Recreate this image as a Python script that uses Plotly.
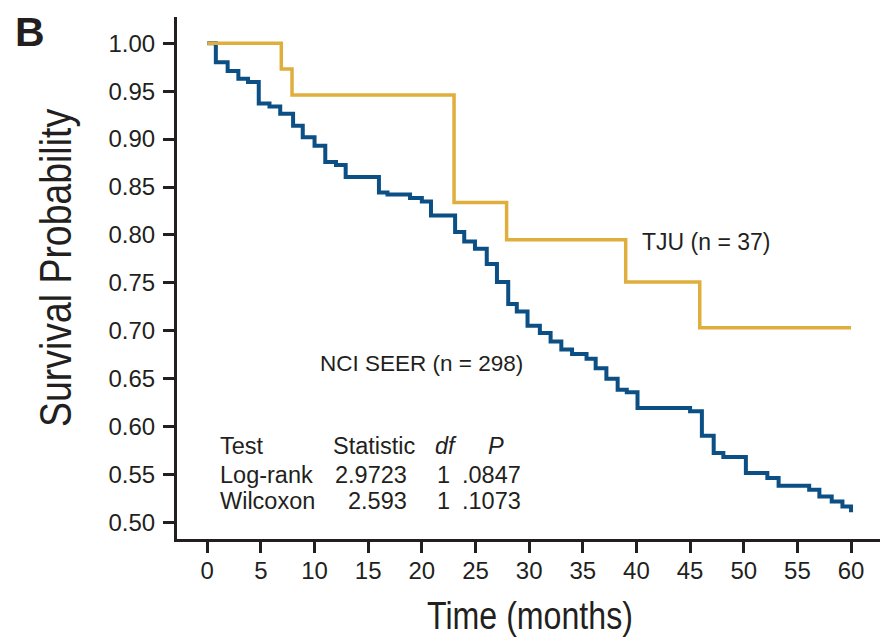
import plotly.graph_objects as go

# ---------------- data ----------------
nci_time = [0, 0.8, 1.9, 2.9, 3.8, 4.8, 5.8, 6.8, 8.0, 8.9, 10.0, 11.0, 12.0, 12.9,
            16.0, 16.8, 18.9, 20.0, 20.85, 23.1, 23.95, 24.95, 26.05, 27.0, 28.05,
            28.85, 29.85, 31.0, 32.0, 33.0, 34.0, 35.35, 36.2, 37.2, 38.25, 39.1,
            40.1, 45.0, 46.1, 47.2, 48.1, 50.2, 52.2, 53.25, 56.1, 57.05, 58.2, 59.2, 60.0]
nci_surv = [1.0, 0.980, 0.971, 0.963, 0.9595, 0.937, 0.934, 0.9265, 0.914, 0.902, 0.893,
            0.876, 0.873, 0.8605, 0.8444, 0.8423, 0.8386, 0.835, 0.8204, 0.803, 0.7933,
            0.7857, 0.7698, 0.751, 0.728, 0.7203, 0.7054, 0.6978, 0.689, 0.6805, 0.6759,
            0.671, 0.661, 0.650, 0.6387, 0.6359, 0.6196, 0.6161, 0.5907, 0.5727, 0.5685,
            0.5518, 0.5466, 0.5386, 0.5344, 0.5274, 0.5222, 0.517, 0.511]

tju_time = [0, 6.9, 7.9, 23.0, 27.9, 39.0, 45.9, 60.0]
tju_surv = [1.0, 0.973, 0.9459, 0.834, 0.795, 0.751, 0.7033, 0.7033]

x_ticks = [0, 5, 10, 15, 20, 25, 30, 35, 40, 45, 50, 55, 60]
y_ticks = [0.50, 0.55, 0.60, 0.65, 0.70, 0.75, 0.80, 0.85, 0.90, 0.95, 1.00]

table_header = ["Test", "Statistic", "df", "P"]
table_tests = ["Log-rank", "Wilcoxon"]
table_stat = ["2.9723", "2.593"]
table_df = ["1", "1"]
table_p = [".0847", ".1073"]

label_tju = "TJU (n = 37)"
label_nci = "NCI SEER (n = 298)"
title_y = "Survival Probability"
title_x = "Time (months)"

# ---------------- style ----------------
BLUE = "#0b4f84"
GOLD = "#e0ae3c"
INK = "#231f20"
FONT = "Liberation Sans, Arial, sans-serif"

# page has an 8px body margin; figure sized so it fills the 888x640 window
BODY = 8
W, H = 888 - BODY, 640 - BODY
PLOT_L, PLOT_R, PLOT_T, PLOT_B = 177, 883, 17, 539   # target page pixels
ML, MT = PLOT_L - BODY, PLOT_T - BODY
MR, MB = 888 - PLOT_R, 640 - PLOT_B
PW, PH = PLOT_R - PLOT_L, PLOT_B - PLOT_T


def px_x(px):
    return (px - PLOT_L) / PW


def px_y(py):
    return (PLOT_B - py) / PH


fig = go.Figure()
fig.add_trace(go.Scatter(x=nci_time, y=nci_surv, mode="lines",
                         line=dict(color=BLUE, width=4, shape="hv"),
                         hoverinfo="skip", showlegend=False))
fig.add_trace(go.Scatter(x=tju_time, y=tju_surv, mode="lines",
                         line=dict(color=GOLD, width=3.5, shape="hv"),
                         hoverinfo="skip", showlegend=False))

ann = []
# curve labels
ann.append(dict(x=40.3, y=0.793, xref="x", yref="y", text=label_tju, showarrow=False,
                xanchor="left", yanchor="middle", font=dict(family=FONT, size=23, color=INK)))
ann.append(dict(x=10.3, y=0.666, xref="x", yref="y", text=label_nci, showarrow=False,
                xanchor="left", yanchor="middle", font=dict(family=FONT, size=22.5, color=INK)))

# table
tf = dict(family=FONT, size=23.5, color=INK)
row_y = [0.5796, 0.5500, 0.5222]
ann.append(dict(x=0.98, y=row_y[0], xref="x", yref="y", text=table_header[0], showarrow=False,
                xanchor="left", yanchor="middle", font=tf))
ann.append(dict(x=19.65, y=row_y[0], xref="x", yref="y", text=table_header[1], showarrow=False,
                xanchor="right", yanchor="middle", font=tf))
ann.append(dict(x=22.25, y=row_y[0], xref="x", yref="y", text="<i>" + table_header[2] + "</i>",
                showarrow=False, xanchor="center", yanchor="middle", font=tf))
ann.append(dict(x=26.95, y=row_y[0], xref="x", yref="y", text="<i>" + table_header[3] + "</i>",
                showarrow=False, xanchor="center", yanchor="middle", font=tf))
for i in range(2):
    yy = row_y[i + 1]
    ann.append(dict(x=0.98, y=yy, xref="x", yref="y", text=table_tests[i], showarrow=False,
                    xanchor="left", yanchor="middle", font=tf))
    ann.append(dict(x=18.8, y=yy, xref="x", yref="y", text=table_stat[i], showarrow=False,
                    xanchor="right", yanchor="middle", font=tf))
    ann.append(dict(x=22.05, y=yy, xref="x", yref="y", text=table_df[i], showarrow=False,
                    xanchor="center", yanchor="middle", font=tf))
    ann.append(dict(x=29.4, y=yy, xref="x", yref="y", text=table_p[i], showarrow=False,
                    xanchor="right", yanchor="middle", font=tf))

# panel letter (kept inside the figure's top edge) and axis titles
ann.append(dict(x=px_x(30), y=px_y(BODY), xref="paper", yref="paper", text="<b>B</b>",
                showarrow=False, xanchor="center", yanchor="top", borderpad=0,
                font=dict(family=FONT, size=41, color=INK)))
ann.append(dict(x=px_x(55), y=px_y(268), xref="paper", yref="paper", text=title_y,
                showarrow=False, xanchor="center", yanchor="middle", textangle=-90,
                font=dict(family=FONT, size=44, color=INK)))
ann.append(dict(x=px_x(530), y=px_y(615), xref="paper", yref="paper", text=title_x,
                showarrow=False, xanchor="center", yanchor="middle",
                font=dict(family=FONT, size=39, color=INK)))

axis_common = dict(showgrid=False, zeroline=False, showline=True, linewidth=3, linecolor=INK,
                   ticks="outside", ticklen=11, tickwidth=2.5, tickcolor=INK,
                   tickfont=dict(family=FONT, size=24, color=INK), fixedrange=True)

fig.update_layout(
    width=W, height=H,
    margin=dict(l=ML, r=MR, t=MT, b=MB, autoexpand=False),
    paper_bgcolor="white", plot_bgcolor="white",
    xaxis=dict(range=[-2.82, 62.98], tickvals=x_ticks, ticklabelstandoff=-3, **axis_common),
    yaxis=dict(range=[0.483, 1.0273], tickvals=y_ticks, tickformat=".2f",
               ticklabelstandoff=3, **axis_common),
    annotations=ann,
)

squeeze_js = """
var gd = document.getElementById('{plot_id}');
function squeezeTitles() {
  var lens = {'%s': 318, '%s': 206};
  gd.querySelectorAll('text.annotation-text').forEach(function (t) {
    var s = t.textContent;
    if (lens[s]) {
      t.setAttribute('textLength', lens[s]);
      t.setAttribute('lengthAdjust', 'spacingAndGlyphs');
    }
  });
}
squeezeTitles();
if (gd.on) { gd.on('plotly_afterplot', squeezeTitles); }
""" % (title_y, title_x)

fig.write_html("out.html", config={"displayModeBar": False}, post_script=squeeze_js)
